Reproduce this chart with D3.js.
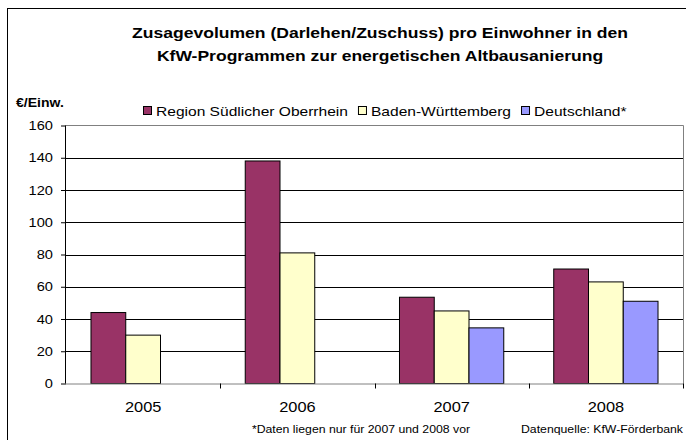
<!DOCTYPE html>
<html><head><meta charset="utf-8">
<script src="https://cdn.jsdelivr.net/npm/d3@7"></script>
<style>body{margin:0;background:#fff}svg{display:block;font-family:Arial,"Liberation Sans",sans-serif}</style>
</head><body><svg id="c" width="686" height="440"></svg>
<script>
const categories = ["2005","2006","2007","2008"];
const seriesNames = ["Region Südlicher Oberrhein","Baden-Württemberg","Deutschland*"];
const regionValues = [44, 138, 53.5, 71];
const bwValues = [30, 81, 45, 63];
const deValues = [null, null, 34.5, 51];
const yTicks = [0,20,40,60,80,100,120,140,160];
const colors = ["#993366","#FFFFCC","#9999FF"];
const titleLines = ["Zusagevolumen (Darlehen/Zuschuss) pro Einwohner in den","KfW-Programmen zur energetischen Altbausanierung"];
const yUnit = "€/Einw.";
const footnote = "*Daten liegen nur für 2007 und 2008 vor";
const source = "Datenquelle: KfW-Förderbank";

const SX = 1.17; // horizontal stretch of the reference's text
const series = [regionValues, bwValues, deValues];
const svg = d3.select("#c");
svg.append("rect").attr("x",7.5).attr("y",8.5).attr("width",700).attr("height",460)
  .attr("fill","none").attr("stroke","#000");

function txt(g, x, y, s, size, opts={}) {
  return g.append("text").attr("transform",`translate(${x},${y}) scale(${SX},1)`)
    .attr("font-size",size).attr("font-weight",opts.bold?"bold":"normal")
    .attr("text-anchor",opts.anchor||"start").attr("fill","#000").text(s);
}

const L=66, R=683, T=125.5, B=383.5;
const x0 = d3.scaleBand().domain(categories).range([L,R]).padding(0);
const x1 = d3.scaleBand().domain(d3.range(3)).range([0.162*x0.bandwidth(), 0.838*x0.bandwidth()]);
const y = d3.scaleLinear().domain([0,160]).range([B,T]);

// gridlines
svg.append("g").selectAll("line").data(yTicks.filter(v=>v>0 && v<160)).join("line")
  .attr("x1",L).attr("x2",R).attr("y1",d=>Math.round(y(d))+0.5).attr("y2",d=>Math.round(y(d))+0.5)
  .attr("stroke","#000");
// plot border top/right
svg.append("path").attr("d",`M${L},${T}H${R+0.5}V${B}`).attr("fill","none").attr("stroke","#808080");

// bars
const flat=[];
categories.forEach((c,i)=>series.forEach((s,j)=>{ if(s[i]!=null) flat.push({c,j,v:s[i]}); }));
svg.append("g").selectAll("rect").data(flat).join("rect")
  .attr("x",d=>x0(d.c)+x1(d.j)).attr("width",x1.bandwidth())
  .attr("y",d=>y(d.v)).attr("height",d=>B-y(d.v))
  .attr("fill",d=>colors[d.j]).attr("stroke","#000").attr("stroke-width",1);

// y axis (line + ticks through d3 axis, labels stretched)
const ya = svg.append("g").attr("transform",`translate(${L},0)`)
  .call(d3.axisLeft(y).tickValues(yTicks).tickSize(5).tickFormat(""));
ya.select(".domain").attr("stroke","#000").attr("d",`M-0.5,${T}V${B}`);
ya.selectAll(".tick line").attr("stroke","#000");
const yl = svg.append("g");
yTicks.forEach(v=>txt(yl, 53, y(v)+4.5, d3.format("d")(v), 12.5, {anchor:"end"}));

// x axis
const xa = svg.append("g").attr("transform",`translate(0,${B})`)
  .call(d3.axisBottom(x0).tickSize(0).tickFormat(""));
xa.select(".domain").attr("stroke","#808080").attr("d",`M${L},0.5H${R+1}`);
svg.append("g").selectAll("line").data(categories.slice(1).map(c=>x0(c)).concat([R])).join("line")
  .attr("x1",d=>Math.round(d)+0.5).attr("x2",d=>Math.round(d)+0.5).attr("y1",B).attr("y2",B+5).attr("stroke","#000");
const xl = svg.append("g");
categories.forEach(c=>txt(xl, x0(c)+x0.bandwidth()/2, 412, c, 14, {anchor:"middle"}));

// title
const tg = svg.append("g");
titleLines.forEach((s,i)=>txt(tg, 380, 38+i*23, s, 15, {bold:true, anchor:"middle"}));

// unit label
txt(svg, 16, 107, yUnit, 12, {bold:true});

// legend
const lg = svg.append("g");
let lx = 143;
seriesNames.forEach((n,j)=>{
  lg.append("rect").attr("x",lx+0.5).attr("y",106.5).attr("width",8).attr("height",8)
    .attr("fill",colors[j]).attr("stroke","#000");
  const t = txt(lg, lx+13, 116, n, 13.3);
  lx += 13 + t.node().getComputedTextLength()*SX + 10;
});

// footnotes
txt(svg, 361, 433, footnote, 10.5, {anchor:"middle"});
txt(svg, 683, 433, source, 10.5, {anchor:"end"});
</script></body></html>
